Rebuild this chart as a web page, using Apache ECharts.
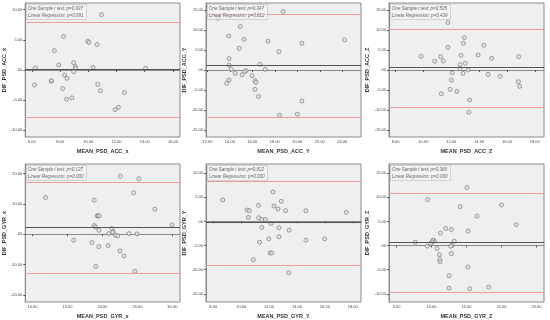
<!DOCTYPE html>
<html><head><meta charset="utf-8">
<script src="https://cdn.jsdelivr.net/npm/echarts@6/dist/echarts.min.js"></script>
<style>html,body{margin:0;padding:0;background:#fff}#c{width:550px;height:320px}</style>
</head><body><div id="c"></div>
<script>
// ---- data ----
const accX_x = [10.93,8.25,9.96,10.05,10.62,7.59,7.90,8.96,9.08,9.10,10.34,6.24,14.06,8.96,8.32,8.49,7.37,7.40,6.19,10.67,8.18,10.86,12.56,8.84,8.46,12.14,11.90];
const accX_y = [9.17,5.56,4.78,4.56,4.22,3.22,0.83,1.22,0.56,0.28,0.44,0.33,0.28,-0.28,-0.83,-1.39,-1.83,-1.80,-2.50,-2.39,-3.06,-3.44,-3.72,-4.61,-4.83,-6.17,-6.56];
const accY_x = [18.74,12.93,14.92,13.90,15.27,17.40,20.41,24.20,14.83,18.36,13.93,13.93,16.67,14.13,17.14,15.45,15.30,14.48,15.09,15.97,16.23,16.32,13.93,13.72,16.23,16.55,20.41,18.42,20.00];
const accY_y = [14.58,12.92,10.83,8.50,7.67,7.17,6.67,7.50,5.42,4.58,2.83,1.25,1.42,0.17,0.17,-0.17,-0.42,-0.83,-1.17,-1.42,-2.67,-3.08,-2.50,-3.33,-4.83,-6.58,-7.75,-11.25,-11.00];
const accZ_x = [11.76,11.76,12.94,12.87,14.34,12.70,9.84,11.24,13.93,14.90,16.84,10.81,11.43,13.01,12.63,12.63,13.22,12.07,12.85,14.64,15.52,12.02,16.82,16.91,11.92,12.40,11.29,13.32,13.27];
const accZ_y = [11.83,5.67,8.08,6.67,6.17,3.67,3.42,3.33,3.75,2.92,3.33,2.17,2.25,1.67,1.33,0.33,0.00,-0.67,-0.83,-1.08,-1.58,-2.50,-2.92,-4.08,-4.83,-5.33,-5.92,-7.50,-10.50];
const gyrX_x = [22.56,25.21,24.45,11.85,18.82,27.49,19.24,19.38,19.52,21.33,29.95,18.82,19.00,19.48,21.52,21.45,20.90,21.85,22.18,23.79,24.93,15.88,18.48,19.48,20.81,22.51,23.08,19.05,24.64];
const gyrX_y = [19.12,18.24,13.63,12.09,11.21,8.24,6.04,6.04,6.04,1.87,3.08,2.86,2.40,1.32,0.77,0.60,0.22,-0.33,-0.55,0.22,0.11,-1.98,-2.75,-4.07,-3.74,-5.49,-7.14,-10.55,-12.20];
const gyrY_x = [12.28,8.68,12.87,11.25,12.35,12.64,10.42,10.59,13.18,14.64,17.53,10.52,11.25,11.48,11.74,12.14,11.48,12.71,13.44,12.71,11.98,11.32,14.64,15.98,12.07,12.19,10.87,13.41];
const gyrY_y = [6.11,4.44,4.17,3.33,3.19,2.57,2.36,2.22,2.22,2.22,1.88,0.83,0.76,0.42,0.42,-0.42,-1.25,-1.32,-1.81,-3.19,-3.61,-4.31,-3.89,-3.61,-6.53,-6.53,-7.92,-10.63];
const gyrZ_x = [15.05,9.43,20.00,14.10,16.51,22.12,12.03,12.83,15.24,11.27,10.42,7.69,13.25,10.19,10.05,9.86,9.39,12.92,12.74,10.80,11.13,11.18,11.23,12.83,15.19,12.50,12.50,15.47,18.16];
const gyrZ_y = [12.01,9.51,8.40,8.06,6.11,4.31,3.54,3.33,2.99,2.57,0.97,0.69,0.90,1.11,0.76,0.42,-0.14,0.00,-0.14,-0.63,-1.88,-2.92,-3.40,-1.67,-4.44,-6.25,-8.82,-8.96,-8.61];

// mean difference, upper limit, lower limit
const accX_lines = [0.05, 7.89, -7.83];
const accY_lines = [1.08, 14.0, -11.67];
const accZ_lines = [0.58, 10.25, -9.17];
const gyrX_lines = [2.2, 17.1, -12.9];
const gyrY_lines = [-0.2, 8.4, -9.1];
const gyrZ_lines = [0.6, 10.8, -9.7];

const tTestP = ['0.937','0.347','0.505','0.137','0.822','0.369'];
const regP   = ['0.891','0.612','0.439','0.000','0.000','0.000'];

const xNames = ['MEAN_PSD_ACC_x','MEAN_PSD_ACC_Y','MEAN_PSD_ACC_Z','MEAN_PSD_GYR_x','MEAN_PSD_GYR_Y','MEAN_PSD_GYR_Z'];
const yNames = ['DIF_PSD_ACC_x','DIF_PSD_ACC_Y','DIF_PSD_ACC_Z','DIF_PSD_GYR_x','DIF_PSD_GYR_Y','DIF_PSD_GYR_Z'];

const xTicks = [[6,8,10,12,14,16],[12,14,16,18,20,22,24],[8,10,12,14,16,18],[10,15,20,25,30],[8,10,12,14,16,18],[5,10,15,20,25]];
const yTicks = [[-10,-5,0,5,10],[-15,-10,-5,0,5,10,15],[-15,-10,-5,0,5,10,15],[-20,-10,0,10,20],[-15,-10,-5,0,5,10],[-10,-5,0,5,10,15]];
const xRange = [[5.53,16.5],[11.88,25.66],[7.53,18.66],[8.96,31.09],[7.48,18.59],[3.92,26.08]];
const yRange = [[-11.1,11.1],[-16.7,16.7],[-16.7,16.7],[-22.3,23.1],[-16.7,11.9],[-11.7,16.9]];

const xs = [accX_x, accY_x, accZ_x, gyrX_x, gyrY_x, gyrZ_x];
const ys = [accX_y, accY_y, accZ_y, gyrX_y, gyrY_y, gyrZ_y];
const lines = [accX_lines, accY_lines, accZ_lines, gyrX_lines, gyrY_lines, gyrZ_lines];

// ---- layout ----
const lefts = [25, 206, 389];
const width = 155;
const tops = [3, 164];
const heights = [134, 138];
const FONT = 'Liberation Sans';
const fmt = v => v === 0 ? '.00' : v.toFixed(2);

const grid = [], xAxis = [], yAxis = [], series = [], title = [];
for (let i = 0; i < 6; i++) {
  const c = i % 3, r = Math.floor(i / 3);
  grid.push({left: lefts[c], top: tops[r], width: width, height: heights[r],
    show: true, backgroundColor: '#efefef', borderColor: '#8a8a8a', borderWidth: 1, containLabel: false});
  xAxis.push({type: 'value', gridIndex: i, min: xRange[i][0], max: xRange[i][1],
    name: xNames[i], nameLocation: 'middle', nameGap: 11,
    nameTextStyle: {fontSize: 5.5, fontWeight: 'bold', color: '#333', fontFamily: FONT},
    splitLine: {show: false},
    axisLine: {show: true, lineStyle: {color: '#8a8a8a', width: 1}},
    axisTick: {show: true, length: 2, customValues: xTicks[i], lineStyle: {color: '#555'}},
    axisLabel: {customValues: xTicks[i], formatter: fmt, fontSize: 4, margin: 3, color: '#444', fontFamily: FONT}});
  yAxis.push({type: 'value', gridIndex: i, min: yRange[i][0], max: yRange[i][1],
    name: yNames[i], nameLocation: 'middle', nameGap: 18, nameRotate: 90,
    nameTextStyle: {fontSize: 5.5, fontWeight: 'bold', color: '#333', fontFamily: FONT},
    splitLine: {show: false},
    axisLine: {show: true, lineStyle: {color: '#8a8a8a', width: 1}},
    axisTick: {show: true, length: 2, customValues: yTicks[i], lineStyle: {color: '#555'}},
    axisLabel: {customValues: yTicks[i], formatter: fmt, fontSize: 4, margin: 3, color: '#444', fontFamily: FONT}});
  series.push({type: 'scatter', xAxisIndex: i, yAxisIndex: i,
    data: xs[i].map((x, k) => [x, ys[i][k]]),
    symbol: 'circle', symbolSize: 4,
    itemStyle: {color: '#e2e2e2', borderColor: '#6e6e6e', borderWidth: 0.8},
    markLine: {silent: true, symbol: 'none', label: {show: false}, animation: false,
      data: [
        {yAxis: lines[i][0], lineStyle: {color: '#555', width: 1, type: 'solid'}},
        {yAxis: lines[i][1], lineStyle: {color: '#f09a9a', width: 1, type: 'solid'}},
        {yAxis: lines[i][2], lineStyle: {color: '#f09a9a', width: 1, type: 'solid'}}
      ]}});
  title.push({left: lefts[c] + 1, top: tops[r] + 1,
    text: 'One Sample t test: p=' + tTestP[i] + '\nLinear Regression: p=' + regP[i],
    backgroundColor: 'rgba(245,245,245,0.6)', borderColor: '#b0b0b0', borderWidth: 0.5,
    padding: [1, 3, 1, 2],
    textStyle: {fontSize: 4.5, lineHeight: 7, color: '#666', fontWeight: 'normal', fontStyle: 'italic', fontFamily: FONT}});
}

const chart = echarts.init(document.getElementById('c'), null, {renderer: 'canvas'});
chart.setOption({animation: false, backgroundColor: '#fff', grid, xAxis, yAxis, series, title});
</script></body></html>
